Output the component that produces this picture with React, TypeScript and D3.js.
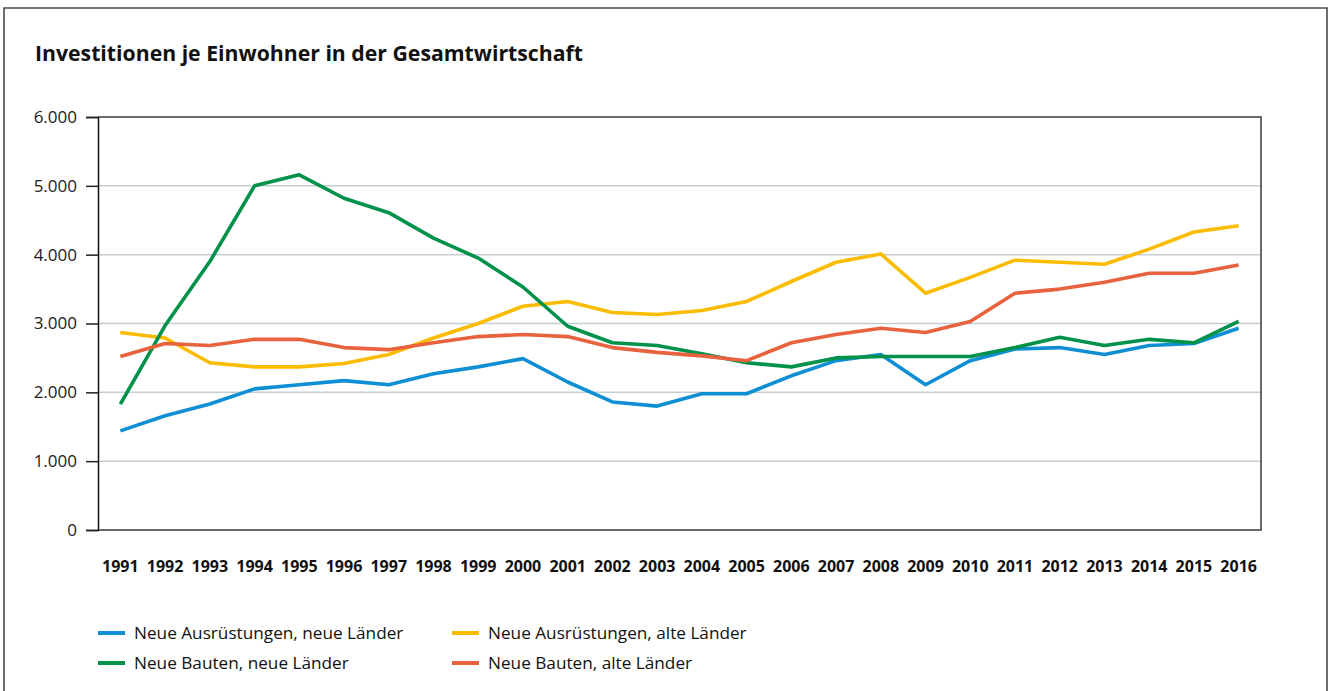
import { useEffect, useRef } from "react";
import * as d3 from "d3";

const YEARS = [
  "1991", "1992", "1993", "1994", "1995", "1996", "1997", "1998", "1999", "2000",
  "2001", "2002", "2003", "2004", "2005", "2006", "2007", "2008", "2009", "2010",
  "2011", "2012", "2013", "2014", "2015", "2016",
];

const AUSR_NEU = [
  1440, 1660, 1830, 2050, 2110, 2170, 2110, 2270, 2370, 2490, 2150, 1860, 1800,
  1980, 1980, 2240, 2460, 2550, 2110, 2460, 2630, 2650, 2550, 2680, 2710, 2930,
];
const AUSR_ALT = [
  2870, 2790, 2430, 2370, 2370, 2420, 2550, 2790, 3000, 3250, 3320, 3160, 3130,
  3190, 3320, 3610, 3890, 4010, 3440, 3670, 3920, 3890, 3860, 4080, 4330, 4420,
];
const BAUTEN_NEU = [
  1830, 2970, 3900, 5000, 5160, 4820, 4610, 4240, 3950, 3530, 2960, 2720, 2680,
  2560, 2430, 2370, 2500, 2520, 2520, 2520, 2650, 2800, 2680, 2770, 2720, 3030,
];
const BAUTEN_ALT = [
  2520, 2710, 2680, 2770, 2770, 2650, 2620, 2720, 2810, 2840, 2810, 2650, 2580,
  2530, 2460, 2720, 2840, 2930, 2870, 3030, 3440, 3500, 3600, 3730, 3730, 3850,
];

const Y_TICKS = [0, 1000, 2000, 3000, 4000, 5000, 6000];

const SERIES = [
  { name: "Neue Ausrüstungen, neue Länder", values: AUSR_NEU, color: "#0f8fd3" },
  { name: "Neue Ausrüstungen, alte Länder", values: AUSR_ALT, color: "#fbbc00" },
  { name: "Neue Bauten, neue Länder", values: BAUTEN_NEU, color: "#00914a" },
  { name: "Neue Bauten, alte Länder", values: BAUTEN_ALT, color: "#e8623d" },
];

const W = 1331;
const H = 691;
const FONT = "'Open Sans', 'Noto Sans', sans-serif";

export default function App() {
  const svgRef = useRef<SVGSVGElement>(null);

  useEffect(() => {
    if (!svgRef.current) return;
    const svg = d3.select(svgRef.current);
    svg.selectAll("*").remove();

    const plot = { left: 98, right: 1261, top: 117, bottom: 530 };

    // outer frame (open at the bottom)
    svg.append("path")
      .attr("d", `M4,${H} V8 H1327 V${H}`)
      .attr("fill", "none")
      .attr("stroke", "#4a4a4a")
      .attr("stroke-width", 1.6);

    svg.append("text")
      .attr("x", 35)
      .attr("y", 61)
      .attr("font-family", FONT)
      .attr("font-weight", 700)
      .attr("font-size", 20.5)
      .attr("textLength", 548)
      .attr("lengthAdjust", "spacingAndGlyphs")
      .attr("fill", "#111")
      .text("Investitionen je Einwohner in der Gesamtwirtschaft");

    const x = d3.scalePoint<string>().domain(YEARS).range([plot.left, plot.right]).padding(0.5);
    const y = d3.scaleLinear().domain([0, 6000]).range([plot.bottom, plot.top]);
    const de = d3.formatLocale({ decimal: ",", thousands: ".", grouping: [3], currency: ["", " €"] });
    const fmt = de.format(",");

    // grid
    svg.append("g")
      .selectAll("line")
      .data(Y_TICKS.filter((t) => t > 0 && t < 6000))
      .enter()
      .append("line")
      .attr("x1", plot.left)
      .attr("x2", plot.right)
      .attr("y1", (d) => y(d))
      .attr("y2", (d) => y(d))
      .attr("stroke", "#c3cdd3")
      .attr("stroke-width", 1.5);

    // plot frame: top, right, bottom
    svg.append("path")
      .attr("d", `M${plot.left},${plot.top} H${plot.right} V${plot.bottom} H${plot.left}`)
      .attr("fill", "none")
      .attr("stroke", "#3a3a3a")
      .attr("stroke-width", 1.5);

    // y axis
    const yAxis = svg.append("g")
      .attr("transform", `translate(${plot.left},0)`)
      .call(d3.axisLeft(y).tickValues(Y_TICKS).tickSize(12).tickPadding(9).tickFormat((d) => fmt(d as number)));
    yAxis.select(".domain").attr("stroke", "#111").attr("stroke-width", 1.5);
    yAxis.selectAll(".tick line").attr("stroke", "#222").attr("stroke-width", 1.5);
    yAxis.selectAll("text")
      .attr("font-family", FONT)
      .attr("font-size", 17)
      .attr("fill", "#1a1a1a");

    // x labels
    svg.append("g")
      .selectAll("text")
      .data(YEARS)
      .enter()
      .append("text")
      .attr("x", (d) => x(d) ?? 0)
      .attr("y", 572)
      .attr("text-anchor", "middle")
      .attr("font-family", FONT)
      .attr("font-weight", 700)
      .attr("font-size", 16)
      .attr("fill", "#111")
      .text((d) => d);

    // lines
    const line = d3.line<number>()
      .x((_, i) => x(YEARS[i]) ?? 0)
      .y((d) => y(d));

    SERIES.forEach((s) => {
      svg.append("path")
        .datum(s.values)
        .attr("d", line)
        .attr("fill", "none")
        .attr("stroke", s.color)
        .attr("stroke-width", 3.6)
        .attr("stroke-linejoin", "round");
    });

    // legend, 2 columns
    const legendCols = [98, 452];
    const legendRows = [633, 663];
    SERIES.forEach((s, i) => {
      const lx = legendCols[i % 2];
      const ly = legendRows[Math.floor(i / 2)];
      svg.append("line")
        .attr("x1", lx)
        .attr("x2", lx + 27)
        .attr("y1", ly)
        .attr("y2", ly)
        .attr("stroke", s.color)
        .attr("stroke-width", 4);
      svg.append("text")
        .attr("x", lx + 36)
        .attr("y", ly + 6)
        .attr("font-family", FONT)
        .attr("font-size", 17.2)
        .attr("fill", "#111")
        .text(s.name);
    });
  }, []);

  return (
    <svg
      ref={svgRef}
      width={W}
      height={H}
      style={{ position: "absolute", left: 0, top: 0, background: "#fff" }}
    />
  );
}
